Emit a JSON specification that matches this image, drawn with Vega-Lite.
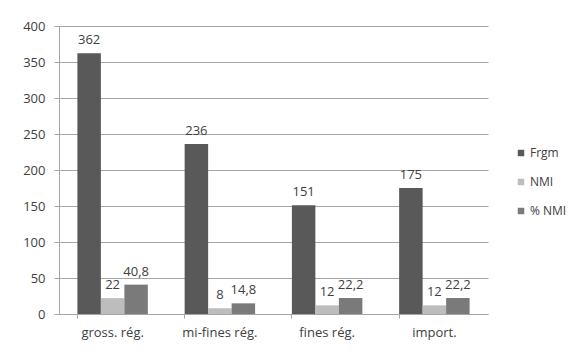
{
  "$schema": "https://vega.github.io/schema/vega-lite/v6.json",
  "autosize": "none",
  "width": 429,
  "height": 288,
  "padding": {"left": 59, "top": 26, "right": 87, "bottom": 38},
  "background": "white",
  "data": {
    "values": [
      {"cat": "gross. rég.", "series": "Frgm", "value": 362, "label": "362"},
      {"cat": "gross. rég.", "series": "NMI", "value": 22, "label": "22"},
      {"cat": "gross. rég.", "series": "% NMI", "value": 40.8, "label": "40,8"},
      {"cat": "mi-fines rég.", "series": "Frgm", "value": 236, "label": "236"},
      {"cat": "mi-fines rég.", "series": "NMI", "value": 8, "label": "8"},
      {"cat": "mi-fines rég.", "series": "% NMI", "value": 14.8, "label": "14,8"},
      {"cat": "fines rég.", "series": "Frgm", "value": 151, "label": "151"},
      {"cat": "fines rég.", "series": "NMI", "value": 12, "label": "12"},
      {"cat": "fines rég.", "series": "% NMI", "value": 22.2, "label": "22,2"},
      {"cat": "import.", "series": "Frgm", "value": 175, "label": "175"},
      {"cat": "import.", "series": "NMI", "value": 12, "label": "12"},
      {"cat": "import.", "series": "% NMI", "value": 22.2, "label": "22,2"}
    ]
  },
  "encoding": {
    "x": {
      "field": "cat", "type": "nominal", "sort": null,
      "scale": {"paddingInner": 0.343, "paddingOuter": 0.1715},
      "axis": {
        "title": null, "labelAngle": 0, "bandPosition": 0,
        "domainColor": "#a6a6a6", "tickColor": "#a6a6a6", "tickSize": 4,
        "labelPadding": 8, "labelFontSize": 13, "labelColor": "#404040"
      }
    },
    "xOffset": {
      "field": "series", "type": "nominal", "sort": ["Frgm", "NMI", "% NMI"],
      "scale": {"paddingInner": 0, "paddingOuter": 0}
    },
    "y": {
      "field": "value", "type": "quantitative",
      "scale": {"domain": [0, 400]},
      "axis": {
        "title": null, "values": [0, 50, 100, 150, 200, 250, 300, 350, 400],
        "grid": true, "gridColor": "#a6a6a6",
        "domain": true, "domainColor": "#a6a6a6", "tickColor": "#a6a6a6", "tickSize": 5,
        "labelPadding": 9, "labelFontSize": 13, "labelColor": "#404040"
      }
    }
  },
  "layer": [
    {
      "mark": {"type": "bar"},
      "encoding": {
        "color": {
          "field": "series", "type": "nominal", "sort": ["Frgm", "NMI", "% NMI"],
          "scale": {"domain": ["Frgm", "NMI", "% NMI"], "range": ["#595959", "#bdbdbd", "#7a7a7a"]},
          "legend": {
            "title": null, "orient": "none", "legendX": 456, "legendY": 121,
            "symbolType": "square", "symbolSize": 42, "symbolStrokeWidth": 0,
            "labelFontSize": 12, "labelColor": "#404040", "rowPadding": 17, "labelOffset": 3
          }
        }
      }
    },
    {
      "mark": {"type": "text", "baseline": "alphabetic", "dy": -9, "fontSize": 13, "color": "#404040"},
      "encoding": {
        "text": {"field": "label"}
      }
    }
  ],
  "config": {
    "font": "Open Sans",
    "view": {"stroke": null}
  }
}
